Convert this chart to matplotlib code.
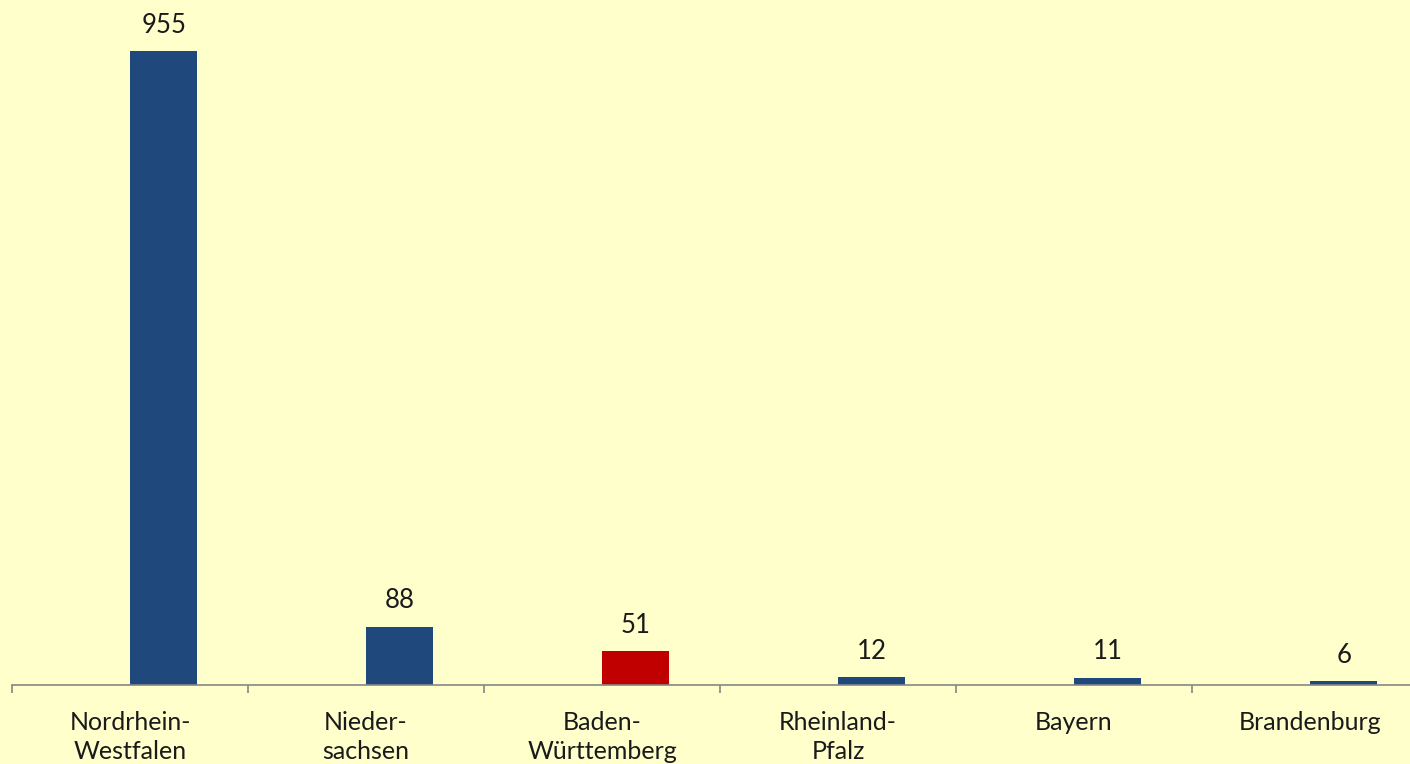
import matplotlib
matplotlib.use("Agg")
from matplotlib import pyplot as plt

states = ["Nordrhein-\nWestfalen", "Nieder-\nsachsen", "Baden-\nWürttemberg",
          "Rheinland-\nPfalz", "Bayern", "Brandenburg"]
counts = [955, 88, 51, 12, 11, 6]
colors = ["#1F497D", "#1F497D", "#C00000", "#1F497D", "#1F497D", "#1F497D"]

plt.rcParams['font.family'] = ['Lato', 'DejaVu Sans']

fig = plt.figure(figsize=(14.1, 7.64), dpi=100, facecolor="#FFFFCC")
# axes runs a bit past the right edge, like the original
ax = fig.add_axes([12 / 1410, 79 / 764, 1416 / 1410, 685 / 764])
ax.set_facecolor("#FFFFCC")

x = list(range(len(states)))
bar_w = 0.285
# bars sit to the right of the category centre
bars = ax.bar([i + bar_w / 2 for i in x], counts, bar_w, color=colors)

for b, v in zip(bars, counts):
    ax.text(b.get_x() + b.get_width() / 2, v + 20, str(v),
            ha="center", va="bottom", fontsize=18.5, color="#1a1a1a")

ax.set_xlim(-0.5, len(states) - 0.5)
ax.set_ylim(0, 685 / (634 / 955))

for side in ["top", "right", "left"]:
    ax.spines[side].set_visible(False)
ax.spines["bottom"].set_color("#868686")
ax.spines["bottom"].set_linewidth(1.2)
ax.set_yticks([])

ax.set_xticks([i - 0.5 for i in range(len(states) + 1)])
ax.set_xticklabels([])
ax.tick_params(axis="x", which="major", direction="out", length=6,
               color="#868686", width=1.2)
ax.set_xticks(x, minor=True)
ax.set_xticklabels(states, minor=True, fontsize=18, color="#1a1a1a",
                   linespacing=1.3)
ax.tick_params(axis="x", which="minor", length=0, pad=19)

fig.savefig("out.png", dpi=100, facecolor=fig.get_facecolor())
